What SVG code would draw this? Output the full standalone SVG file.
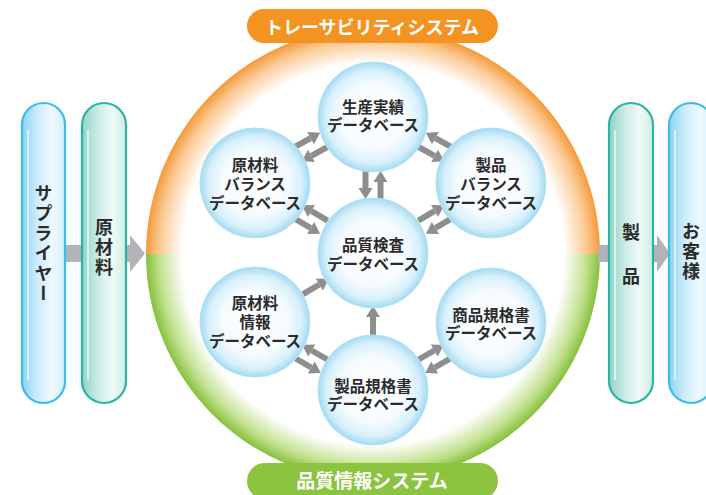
<svg xmlns="http://www.w3.org/2000/svg" width="706" height="495" viewBox="0 0 706 495">
<defs>
<style>
.t{font-family:"Noto Sans CJK JP","Noto Sans",sans-serif;font-weight:bold;fill:#2b2b2b}
.c{font-size:15.5px;text-anchor:middle}
.v{font-size:18px;writing-mode:vertical-rl;text-anchor:middle;letter-spacing:2px}
.lbl{font-family:"Noto Sans CJK JP","Noto Sans",sans-serif;font-weight:bold;fill:#fff;text-anchor:middle}
.node{fill:url(#ng);stroke:#b3e1f4;stroke-width:1}
.ar{stroke:#8e8e8e;stroke-width:6;fill:none;marker-end:url(#ah)}
.bar{fill:#b2b3b6}
</style>
<radialGradient id="ng" cx="0.5" cy="0.5" r="0.5">
<stop offset="0" stop-color="#ffffff"/>
<stop offset="0.6" stop-color="#f5fbfe"/>
<stop offset="0.85" stop-color="#d7f0fb"/>
<stop offset="1" stop-color="#a3daf2"/>
</radialGradient>
<radialGradient id="og" gradientUnits="userSpaceOnUse" cx="373" cy="254" r="227">
<stop offset="0.84" stop-color="#ffffff"/>
<stop offset="0.94" stop-color="#fbca95"/>
<stop offset="1" stop-color="#f49a3a"/>
</radialGradient>
<radialGradient id="gg" gradientUnits="userSpaceOnUse" cx="373" cy="254" r="227">
<stop offset="0.84" stop-color="#ffffff"/>
<stop offset="0.94" stop-color="#c3e190"/>
<stop offset="1" stop-color="#86c03c"/>
</radialGradient>
<linearGradient id="pb" x1="0" y1="0" x2="1" y2="0">
<stop offset="0" stop-color="#8ad3f2"/>
<stop offset="0.35" stop-color="#cbecfa"/>
<stop offset="0.7" stop-color="#f0f9fe"/>
<stop offset="1" stop-color="#d2effb"/>
</linearGradient>
<linearGradient id="pt" x1="0" y1="0" x2="1" y2="0">
<stop offset="0" stop-color="#8fd3c9"/>
<stop offset="0.35" stop-color="#c9ebe5"/>
<stop offset="0.7" stop-color="#f0faf8"/>
<stop offset="1" stop-color="#cdede7"/>
</linearGradient>
<marker id="ah" markerUnits="userSpaceOnUse" markerWidth="14" markerHeight="16" viewBox="0 -8 12 16" refX="0" refY="0" orient="auto">
<path d="M0,-7 L11,0 L0,7 z" fill="#8e8e8e"/>
</marker>
</defs>

<!-- big system circle -->
<g id="system-circle">
<path d="M146,254 A227,227 0 0 1 600,254 Z" fill="url(#og)"/>
<path d="M146,254 A227,227 0 0 0 600,254 Z" fill="url(#gg)"/>
</g>

<!-- side flow bars -->
<g id="flow-bars">
<rect class="bar" x="64" y="245" width="20" height="17"/>
<path class="bar" d="M125,245 H130 V235 L145,253.5 L130,272 V262 H125 Z"/>
<rect class="bar" x="598" y="245" width="13" height="17"/>
<path class="bar" d="M652,245 H657 V235 L670,253.5 L657,272 V262 H652 Z"/>
</g>

<g id="supplier">
<rect x="22" y="103" width="43" height="300" rx="21.5" fill="url(#pb)" stroke="#3cbcec" stroke-width="2.2"/>
<path d="M28,130 V380" stroke="#ffffff" stroke-width="1.5" opacity="0.8" fill="none"/>
<text class="t v" x="43.5" y="244">サプライヤー</text>
</g>
<g id="raw-material">
<rect x="82" y="103" width="44" height="300" rx="22" fill="url(#pt)" stroke="#2cb3a2" stroke-width="2.2"/>
<path d="M88,130 V380" stroke="#ffffff" stroke-width="1.5" opacity="0.8" fill="none"/>
<text class="t v" x="104" y="248">原材料</text>
</g>
<g id="product">
<rect x="609" y="103" width="44" height="300" rx="22" fill="url(#pt)" stroke="#2cb3a2" stroke-width="2.2"/>
<path d="M615,130 V380" stroke="#ffffff" stroke-width="1.5" opacity="0.8" fill="none"/>
<text class="t" x="631" y="239" font-size="18" text-anchor="middle">製</text>
<text class="t" x="631" y="283" font-size="18" text-anchor="middle">品</text>
</g>
<g id="customer">
<rect x="669" y="103" width="44" height="300" rx="22" fill="url(#pb)" stroke="#3cbcec" stroke-width="2.2"/>
<path d="M675,130 V380" stroke="#ffffff" stroke-width="1.5" opacity="0.8" fill="none"/>
<text class="t v" x="691" y="252">お客様</text>
</g>

<g id="label-traceability">
<rect x="247" y="9" width="251" height="34" rx="17" fill="#f39322"/>
<text class="lbl" x="372" y="33.5" font-size="18">トレーサビリティシステム</text>
</g>
<g id="label-quality">
<rect x="247" y="463" width="251" height="36" rx="18" fill="#8cc43f"/>
<text class="lbl" x="372" y="487.5" font-size="19">品質情報システム</text>
</g>

<!-- connectors -->
<g id="connectors">
<line class="ar" x1="365.5" y1="169" x2="365.5" y2="188"/>
<line class="ar" x1="380.5" y1="201" x2="380.5" y2="182"/>
<line class="ar" x1="294" y1="147.3" x2="310.6" y2="138.1"/>
<line class="ar" x1="328" y1="146.7" x2="311.4" y2="155.9"/>
<line class="ar" x1="452" y1="147.3" x2="435.4" y2="138.1"/>
<line class="ar" x1="418" y1="146.7" x2="434.6" y2="155.9"/>
<line class="ar" x1="327.7" y1="220.7" x2="311.4" y2="211"/>
<line class="ar" x1="294.3" y1="218.3" x2="310.6" y2="228"/>
<line class="ar" x1="418.3" y1="220.7" x2="434.6" y2="211"/>
<line class="ar" x1="451.7" y1="218.3" x2="435.4" y2="228"/>
<line class="ar" x1="303.1" y1="294.1" x2="319.4" y2="284.5"/>
<line class="ar" x1="328.2" y1="360" x2="311.7" y2="350.5"/>
<line class="ar" x1="294.8" y1="358" x2="311.3" y2="367.5"/>
<line class="ar" x1="417.8" y1="360" x2="434.3" y2="350.5"/>
<line class="ar" x1="451.2" y1="358" x2="434.7" y2="367.5"/>
<line class="ar" x1="373" y1="338" x2="373" y2="317"/>
</g>

<g id="db-production">
<circle class="node" cx="373" cy="117" r="55"/>
<text class="t c" x="373" y="112.5">生産実績</text>
<text class="t c" x="373" y="131">データベース</text>
</g>
<g id="db-raw-balance">
<circle class="node" cx="255" cy="183" r="55"/>
<text class="t c" x="255" y="170.5">原材料</text>
<text class="t c" x="255" y="190">バランス</text>
<text class="t c" x="255" y="208.5">データベース</text>
</g>
<g id="db-product-balance">
<circle class="node" cx="491" cy="183" r="55"/>
<text class="t c" x="491" y="170.5">製品</text>
<text class="t c" x="491" y="190">バランス</text>
<text class="t c" x="491" y="208.5">データベース</text>
</g>
<g id="db-quality-inspection">
<circle class="node" cx="373" cy="253" r="55"/>
<text class="t c" x="373" y="250.5">品質検査</text>
<text class="t c" x="373" y="270">データベース</text>
</g>
<g id="db-raw-info">
<circle class="node" cx="255" cy="322" r="55"/>
<text class="t c" x="255" y="308.5">原材料</text>
<text class="t c" x="255" y="328">情報</text>
<text class="t c" x="255" y="347">データベース</text>
</g>
<g id="db-goods-spec">
<circle class="node" cx="491" cy="323" r="55"/>
<text class="t c" x="491" y="320.5">商品規格書</text>
<text class="t c" x="491" y="339">データベース</text>
</g>
<g id="db-product-spec">
<circle class="node" cx="373" cy="390" r="55"/>
<text class="t c" x="373" y="391.5">製品規格書</text>
<text class="t c" x="373" y="410">データベース</text>
</g>
</svg>
